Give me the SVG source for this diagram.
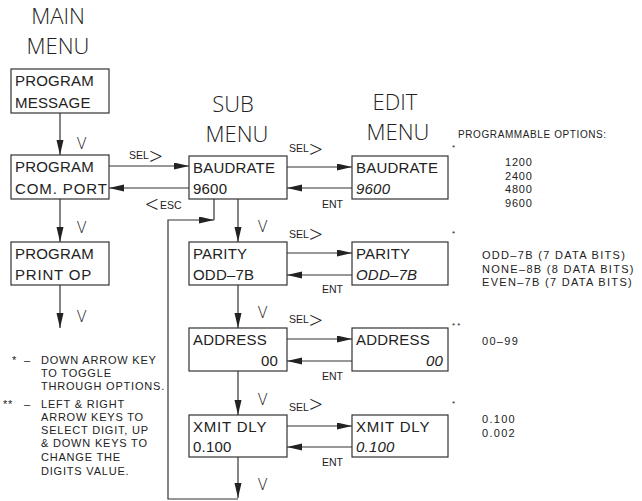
<svg xmlns="http://www.w3.org/2000/svg" width="642" height="501" viewBox="0 0 642 501">
<style>
text{font-family:"Liberation Sans",Arial,sans-serif;fill:#222}
.title{font-family:"Open Sans","Liberation Sans",sans-serif;font-weight:300;font-size:22px;text-anchor:middle}
.bx{font-size:15px;letter-spacing:0.2px}
.it{font-style:italic}
.r{text-anchor:end}
.box{fill:#fff;stroke:#333;stroke-width:1.2}
.c{fill:none;stroke:#333;stroke-width:1.2}
.v{font-family:"Open Sans","Liberation Sans",sans-serif;font-weight:300;font-size:16px}
.sm{font-size:10.5px}
.ch{font-family:"Open Sans","Liberation Sans",sans-serif;font-weight:300;font-size:24px}
.opt{font-size:10px;letter-spacing:0.6px}
.opt2{font-size:11px;letter-spacing:1.3px}
.num{font-size:11px;letter-spacing:0.8px}
.note{font-size:11px;letter-spacing:0.8px}
.star{font-size:8px}
</style>
<defs>
<marker id="ah" markerUnits="userSpaceOnUse" markerWidth="16" markerHeight="8" refX="15" refY="3.5" orient="auto">
<path d="M0,0 L15,3.5 L0,7 z" fill="#222"/>
</marker>
</defs>

<g id="titles">
<text class="title" x="58" y="24">MAIN</text>
<text class="title" x="58" y="54">MENU</text>
<text class="title" x="233" y="112">SUB</text>
<text class="title" x="237" y="142">MENU</text>
<text class="title" x="395" y="110">EDIT</text>
<text class="title" x="398" y="140">MENU</text>
</g>

<g id="connectors">
<path class="c" d="M60,113 V155" marker-end="url(#ah)"/>
<path class="c" d="M60,199 V242" marker-end="url(#ah)"/>
<path class="c" d="M60,285 V328" marker-end="url(#ah)"/>
<path class="c" d="M109,166 H189" marker-end="url(#ah)"/>
<path class="c" d="M189,188 H109" marker-end="url(#ah)"/>
<path class="c" d="M238,199 V242" marker-end="url(#ah)"/>
<path class="c" d="M238,285 V328" marker-end="url(#ah)"/>
<path class="c" d="M238,371 V415" marker-end="url(#ah)"/>
<path class="c" d="M238,457 V498" marker-end="url(#ah)"/>
<path class="c" d="M287,167 H352" marker-end="url(#ah)"/>
<path class="c" d="M352,188 H287" marker-end="url(#ah)"/>
<path class="c" d="M287,253 H352" marker-end="url(#ah)"/>
<path class="c" d="M352,275 H287" marker-end="url(#ah)"/>
<path class="c" d="M287,339 H352" marker-end="url(#ah)"/>
<path class="c" d="M352,361 H287" marker-end="url(#ah)"/>
<path class="c" d="M287,426 H352" marker-end="url(#ah)"/>
<path class="c" d="M352,447 H287" marker-end="url(#ah)"/>
<path class="c" d="M214,199 V220"/>
<path class="c" d="M238,499 H168 V220 H214" marker-end="url(#ah)"/>
</g>

<g id="connector-labels">
<text class="v" x="77" y="149">V</text>
<text class="v" x="77" y="233">V</text>
<text class="v" x="77" y="322">V</text>
<text class="v" x="258" y="232">V</text>
<text class="v" x="258" y="318">V</text>
<text class="v" x="258" y="405">V</text>
<text class="v" x="258" y="490">V</text>
<text class="sm" x="129" y="159">SEL</text><text class="ch" x="149" y="165">&gt;</text>
<text class="ch" x="145" y="213">&lt;</text><text class="sm" x="160" y="209">ESC</text>
<text class="sm" x="289" y="152">SEL</text><text class="ch" x="309" y="158">&gt;</text>
<text class="sm" x="289" y="238">SEL</text><text class="ch" x="309" y="243">&gt;</text>
<text class="sm" x="289" y="323">SEL</text><text class="ch" x="309" y="329">&gt;</text>
<text class="sm" x="289" y="411">SEL</text><text class="ch" x="309" y="413">&gt;</text>
<text class="sm" x="322" y="208">ENT</text>
<text class="sm" x="322" y="293">ENT</text>
<text class="sm" x="322" y="380">ENT</text>
<text class="sm" x="322" y="466">ENT</text>
</g>

<g id="main-program-message">
<rect class="box" x="11" y="69" width="98" height="44"/>
<text class="bx" x="15" y="86">PROGRAM</text>
<text class="bx" x="15" y="108">MESSAGE</text>
</g>
<g id="main-program-com-port">
<rect class="box" x="11" y="155" width="98" height="44"/>
<text class="bx" x="15" y="172">PROGRAM</text>
<text class="bx" x="15" y="194" style="letter-spacing:0.9px">COM. PORT</text>
</g>
<g id="main-program-print-op">
<rect class="box" x="11" y="242" width="98" height="43"/>
<text class="bx" x="15" y="259">PROGRAM</text>
<text class="bx" x="15" y="280" style="letter-spacing:0.8px">PRINT OP</text>
</g>

<g id="sub-baudrate">
<rect class="box" x="189" y="156" width="98" height="43"/>
<text class="bx" x="193" y="173">BAUDRATE</text>
<text class="bx" x="193" y="194">9600</text>
</g>
<g id="sub-parity">
<rect class="box" x="189" y="242" width="98" height="43"/>
<text class="bx" x="193" y="259">PARITY</text>
<text class="bx" x="193" y="280">ODD–7B</text>
</g>
<g id="sub-address">
<rect class="box" x="189" y="328" width="98" height="43"/>
<text class="bx" x="193" y="345">ADDRESS</text>
<text class="bx r" x="278" y="366">00</text>
</g>
<g id="sub-xmit-dly">
<rect class="box" x="189" y="415" width="98" height="42"/>
<text class="bx" x="193" y="432" style="letter-spacing:0.8px">XMIT DLY</text>
<text class="bx" x="193" y="452">0.100</text>
</g>

<g id="edit-baudrate">
<rect class="box" x="352" y="156" width="96" height="43"/>
<text class="bx" x="356" y="173">BAUDRATE</text>
<text class="bx it" x="356" y="194">9600</text>
</g>
<g id="edit-parity">
<rect class="box" x="352" y="242" width="96" height="43"/>
<text class="bx" x="356" y="259">PARITY</text>
<text class="bx it" x="356" y="280">ODD–7B</text>
</g>
<g id="edit-address">
<rect class="box" x="352" y="328" width="96" height="43"/>
<text class="bx" x="356" y="345">ADDRESS</text>
<text class="bx it r" x="443" y="366">00</text>
</g>
<g id="edit-xmit-dly">
<rect class="box" x="352" y="415" width="96" height="42"/>
<text class="bx" x="356" y="432" style="letter-spacing:0.8px">XMIT DLY</text>
<text class="bx it" x="356" y="452">0.100</text>
</g>

<g id="options">
<text class="opt" x="458" y="138">PROGRAMMABLE OPTIONS:</text>
<text class="star" x="452" y="150">*</text>
<text class="num" x="505" y="166">1200</text>
<text class="num" x="505" y="180">2400</text>
<text class="num" x="505" y="193">4800</text>
<text class="num" x="505" y="207">9600</text>
<text class="star" x="452" y="236">*</text>
<text class="opt2" x="482" y="259">ODD–7B (7 DATA BITS)</text>
<text class="opt2" x="482" y="272.5">NONE–8B (8 DATA BITS)</text>
<text class="opt2" x="482" y="286">EVEN–7B (7 DATA BITS)</text>
<text class="star" x="452" y="328">* *</text>
<text class="opt2" x="482" y="345">00–99</text>
<text class="star" x="452" y="406">*</text>
<text class="opt2" x="482" y="423">0.100</text>
<text class="opt2" x="482" y="437">0.002</text>
</g>

<g id="notes">
<text class="note" x="12" y="364">*</text>
<text class="note" x="24" y="364">–</text>
<text class="note" x="41" y="364">DOWN ARROW KEY</text>
<text class="note" x="41" y="377">TO TOGGLE</text>
<text class="note" x="41" y="390">THROUGH OPTIONS.</text>
<text class="note" x="3" y="408">**</text>
<text class="note" x="24" y="408">–</text>
<text class="note" x="41" y="408">LEFT &amp; RIGHT</text>
<text class="note" x="41" y="421">ARROW KEYS TO</text>
<text class="note" x="41" y="434">SELECT DIGIT, UP</text>
<text class="note" x="41" y="447">&amp; DOWN KEYS TO</text>
<text class="note" x="41" y="461">CHANGE THE</text>
<text class="note" x="41" y="475">DIGITS VALUE.</text>
</g>
</svg>
